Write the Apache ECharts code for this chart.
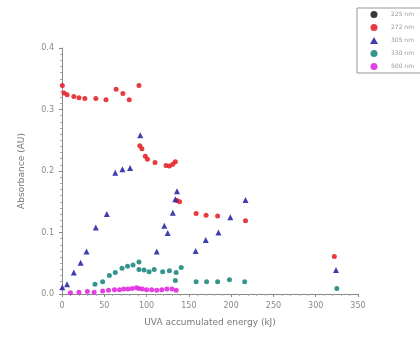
<!DOCTYPE html>
<html><head><meta charset="utf-8">
<script src="https://cdn.jsdelivr.net/npm/echarts@6/dist/echarts.min.js"></script>
<style>html,body{margin:0;padding:0;background:#fff}#c{width:420px;height:340px}</style>
</head><body><div id="c"></div>
<script>
const seriesNames = ["225 nm", "272 nm", "305 nm", "330 nm", "500 nm"];
const xTicks = [0, 50, 100, 150, 200, 250, 300, 350];
const yTicks = [0.0, 0.1, 0.2, 0.3, 0.4];
const s225 = [];
const s272 = [[0.4,0.339],[2.4,0.327],[6,0.324],[14,0.321],[20,0.319],[27,0.318],[40,0.318],[52,0.316],[64,0.333],[72,0.326],[79.5,0.316],[91,0.339],
  [92,0.241],[94.5,0.236],[98.5,0.224],[101,0.219],[110,0.214],[123,0.209],[127,0.208],[131,0.211],[134,0.215],
  [136,0.152],[139,0.150],[158.6,0.131],[170.4,0.128],[184,0.127],[217,0.119],[322,0.061]];
const s305 = [[0.4,0.011],[6,0.016],[14,0.035],[22,0.051],[29,0.069],[40,0.108],[53,0.130],[63,0.197],[71.5,0.203],[80.5,0.205],[92.5,0.258],
  [112,0.069],[121,0.111],[125,0.099],[131,0.132],[134,0.154],[136,0.167],[158,0.070],[170,0.088],[185,0.100],[199,0.125],[217,0.153],[324,0.039]];
const s330 = [[39,0.016],[48,0.020],[56,0.030],[63,0.035],[71,0.042],[77.5,0.045],[84,0.047],[91,0.052],[91,0.040],[97,0.039],[103,0.036],[109,0.040],
  [119,0.036],[127,0.038],[135,0.035],[141,0.043],[134,0.022],[158.6,0.020],[171,0.020],[184,0.020],[198,0.023],[216,0.020],[325,0.009]];
const s500 = [[10,0.002],[20,0.003],[30,0.004],[38,0.003],[48,0.005],[55,0.006],[62,0.007],[68,0.007],[73,0.008],[78,0.008],[83,0.009],[88,0.010],
  [91,0.009],[95,0.008],[100,0.007],[106,0.007],[112,0.006],[118,0.007],[124,0.008],[130,0.008],[135,0.006]];

const colors = ["#222222", "#e5262b", "#2a2aa8", "#1f8a80", "#e02ae0"];
const symbols = ["circle", "circle", "triangle", "circle", "circle"];
const datas = [s225, s272, s305, s330, s500];

const chart = echarts.init(document.getElementById('c'), null, {renderer: 'canvas'});
chart.setOption({
  animation: false,
  grid: {left: 62, right: 62, top: 48, bottom: 46},
  legend: {
    orient: 'vertical', right: -8, top: 8, itemGap: 6, itemWidth: 8, itemHeight: 7,
    padding: [3, 14, 3, 13], borderColor: '#999', borderWidth: 1,
    textStyle: {fontSize: 6, color: '#999', fontFamily: 'DejaVu Sans', padding: [0, 0, 0, 8]},
    data: seriesNames.map((n, i) => ({name: n, icon: symbols[i]}))
  },
  xAxis: {
    type: 'value', min: xTicks[0], max: xTicks[xTicks.length - 1], interval: 50,
    name: 'UVA accumulated energy (kJ)', nameLocation: 'middle', nameGap: 24,
    nameTextStyle: {fontSize: 9, color: '#777', fontFamily: 'DejaVu Sans'},
    axisLine: {lineStyle: {color: '#888'}},
    axisTick: {length: 3, lineStyle: {color: '#888'}},
    minorTick: {show: true, splitNumber: 5, length: 2, lineStyle: {color: '#aaa'}},
    axisLabel: {fontSize: 8, color: '#888', fontFamily: 'DejaVu Sans'},
    splitLine: {show: false}
  },
  yAxis: {
    type: 'value', min: yTicks[0], max: yTicks[yTicks.length - 1], interval: 0.1,
    name: 'Absorbance (AU)', nameLocation: 'middle', nameGap: 36,
    nameTextStyle: {fontSize: 9, color: '#777', fontFamily: 'DejaVu Sans'},
    axisLine: {show: true, lineStyle: {color: '#888'}},
    axisTick: {show: true, length: 3, lineStyle: {color: '#888'}},
    minorTick: {show: true, splitNumber: 10, length: 2, lineStyle: {color: '#aaa'}},
    axisLabel: {fontSize: 8, color: '#888', fontFamily: 'DejaVu Sans', formatter: v => v.toFixed(1)},
    splitLine: {show: false}
  },
  series: seriesNames.map((n, i) => ({
    name: n, type: 'scatter', data: datas[i], symbol: symbols[i],
    symbolSize: i === 2 ? 6 : 5,
    itemStyle: {color: colors[i], opacity: 0.9}
  }))
});
</script></body></html>
